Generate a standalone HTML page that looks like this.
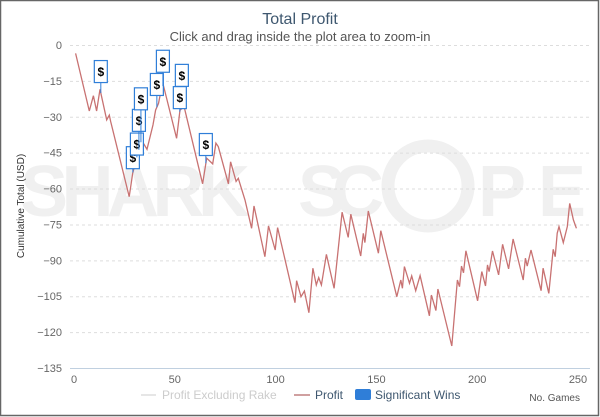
<!DOCTYPE html>
<html><head><meta charset="utf-8"><style>
body{margin:0;background:#fff}
svg{display:block;font-family:"Liberation Sans",sans-serif}
</style></head><body>
<svg id="c" width="600" height="417" viewBox="0 0 600 417">
<rect x="0.5" y="0.5" width="598" height="415" fill="#fff" stroke="#666" stroke-width="1.5"/>
<g fill="#f0f0f0">
<text x="20" y="216" font-size="72" font-weight="bold" textLength="230">SHARK</text>
<text x="298" y="216" font-size="72" font-weight="bold" textLength="86">SC</text>
<circle cx="428" cy="186" r="40" fill="none" stroke="#f0f0f0" stroke-width="13"/>
<text x="478" y="216" font-size="72" font-weight="bold" textLength="108">PE</text>
</g>
<text x="300" y="24" text-anchor="middle" font-size="16" fill="#3e576f">Total Profit</text>
<text x="300" y="41" text-anchor="middle" font-size="13" fill="#555">Click and drag inside the plot area to zoom-in</text>
<text transform="translate(24,206) rotate(-90)" text-anchor="middle" font-size="10" fill="#333">Cumulative Total (USD)</text>
<g id="grid"></g>
<line x1="70" y1="368.5" x2="590" y2="368.5" stroke="#c0d0e0"/>
<g id="xt"></g>
<g id="series"></g>
<g id="wins"></g>
<text x="580" y="401" text-anchor="end" font-size="10" fill="#555">No. Games</text>
<g>
<g><line x1="141" y1="395" x2="156" y2="395" stroke="#ccc"/><text x="162" y="399" font-size="12" fill="#ccc">Profit Excluding Rake</text></g>
<g><line x1="294" y1="395" x2="310" y2="395" stroke="#a04040"/><text x="315" y="399" font-size="12" fill="#3e576f">Profit</text></g>
<g><rect x="355" y="389" width="16" height="11" rx="2" fill="#2f7ed8"/><text x="375" y="399" font-size="12" fill="#3e576f">Significant Wins</text></g>
</g>
</svg>
<script>
const games=[0.8,7.6,9.6,11.2,12.9,16.2,17.5,18.2,27.4,29.1,33.5,36.2,39.2,40.5,41.9,42.9,44.3,50.9,52.6,54.6,63.8,65.8,68.8,70.4,71.6,76.6,77.7,80.4,81.5,84.8,88.1,89.3,94.7,96.5,99.8,101,109.6,110.4,112.6,114.3,116.5,118.5,120.2,121.4,122.7,125.2,129,133,136,137.3,142.2,143.5,144.3,146,151,152.2,160.1,162.1,162.9,163.9,166.4,167.5,169.5,171.7,176.3,177.3,179.5,180.5,187.4,190.2,191.2,192.2,193.2,194.4,200.2,202.3,204.1,205.1,205.9,207.6,210.6,212.6,215.6,217.8,222.8,223.9,224.8,226.7,231.7,232.7,235.5,237.7,238.7,239.7,240.6,242.7,244.7,245.9,247.7,249.2];
const profit=[-3.5,-27.6,-21.2,-27.6,-18.5,-31.3,-29.3,-32,-63.4,-53.6,-39.7,-43.6,-33.4,-27.2,-24.4,-20.2,-16.7,-39,-27.2,-25.8,-58,-47.3,-49.7,-41,-42.5,-58,-48.8,-57,-55.7,-64.8,-76.6,-67.3,-88.5,-75.6,-85.7,-76.3,-107.7,-98.5,-105.2,-102.8,-111.9,-93.3,-100.3,-97.2,-100.3,-87.5,-101.7,-69.9,-80.4,-70.7,-88.2,-78.7,-82.6,-69.4,-87,-77.6,-105.2,-98.2,-101.7,-92.6,-99.6,-96.5,-102.7,-96.4,-113.2,-104.5,-111,-102,-125.8,-98.2,-101,-92.4,-95.2,-86,-106.9,-94.7,-100.7,-91.9,-94.7,-86.1,-96.1,-83.3,-93.6,-81.1,-98.2,-89.1,-92.4,-85.7,-102.7,-93.3,-103.8,-85.4,-88.5,-78.7,-75.9,-82.6,-75.9,-66.2,-73.1,-76.6];
const winGames=[13.3,29.2,31.2,32.2,33.2,41.1,44.1,53.5,52.5,65.4];
const winBoxTop=[-6.5,-42.5,-36.8,-26.9,-17.9,-11.9,-2.2,-8.1,-17.4,-37];
const yTicks=[0,-15,-30,-45,-60,-75,-90,-105,-120,-135];
const xTicks=[0,50,100,150,200,250];
const NS='http://www.w3.org/2000/svg';
const X=g=>74+g*(504/250);
const Y=v=>45+(-v)*(323/135);
function mk(t,a,p){const e=document.createElementNS(NS,t);for(const k in a)e.setAttribute(k,a[k]);p.appendChild(e);return e;}
const grid=document.getElementById('grid');
yTicks.forEach(v=>{
 const l=mk('line',{x1:70,x2:590,y1:Y(v)+0.5,y2:Y(v)+0.5,stroke:'#ddd','stroke-dasharray':'3,3'},grid);
 
 
 const t=mk('text',{x:62,y:Y(v)+4,'text-anchor':'end','font-size':11,fill:'#666'},grid);
 t.textContent=v===0?'0':'−'+Math.abs(v);
 
 
});
const xt=document.getElementById('xt');
xTicks.forEach(v=>{
 const t=mk('text',{x:X(v),y:383,'text-anchor':'middle','font-size':11,fill:'#666'},xt);
 t.textContent=v;
 
 
});
const pts=games.map((g,i)=>X(g).toFixed(1)+','+Y(profit[i]).toFixed(1)).join(' ');
const pl=mk('polyline',{points:pts,fill:'none',stroke:'#c87272','stroke-width':1.3},document.getElementById('series'));


function valAt(g){for(let i=1;i<games.length;i++){if(games[i]>=g){const t=(g-games[i-1])/(games[i]-games[i-1]);return profit[i-1]+t*(profit[i]-profit[i-1]);}}return profit[profit.length-1];}
const wg=document.getElementById('wins');
winGames.forEach((g,i)=>{
 const cx=X(g),top=Y(winBoxTop[i]),py=Y(valAt(g));
 const grp=mk('g',{},wg);
 
 
 mk('line',{x1:cx,x2:cx,y1:top+22,y2:py,stroke:'#2f7ed8'},grp);
 mk('rect',{x:cx-6.5,y:top,width:13,height:22,fill:'#fff',stroke:'#2f7ed8','stroke-width':1.2},grp);
 const t=mk('text',{x:cx,y:top+15.5,'text-anchor':'middle','font-size':12,'font-weight':'bold',fill:'#000'},grp);
 t.textContent='$';
});
</script>
</body></html>
